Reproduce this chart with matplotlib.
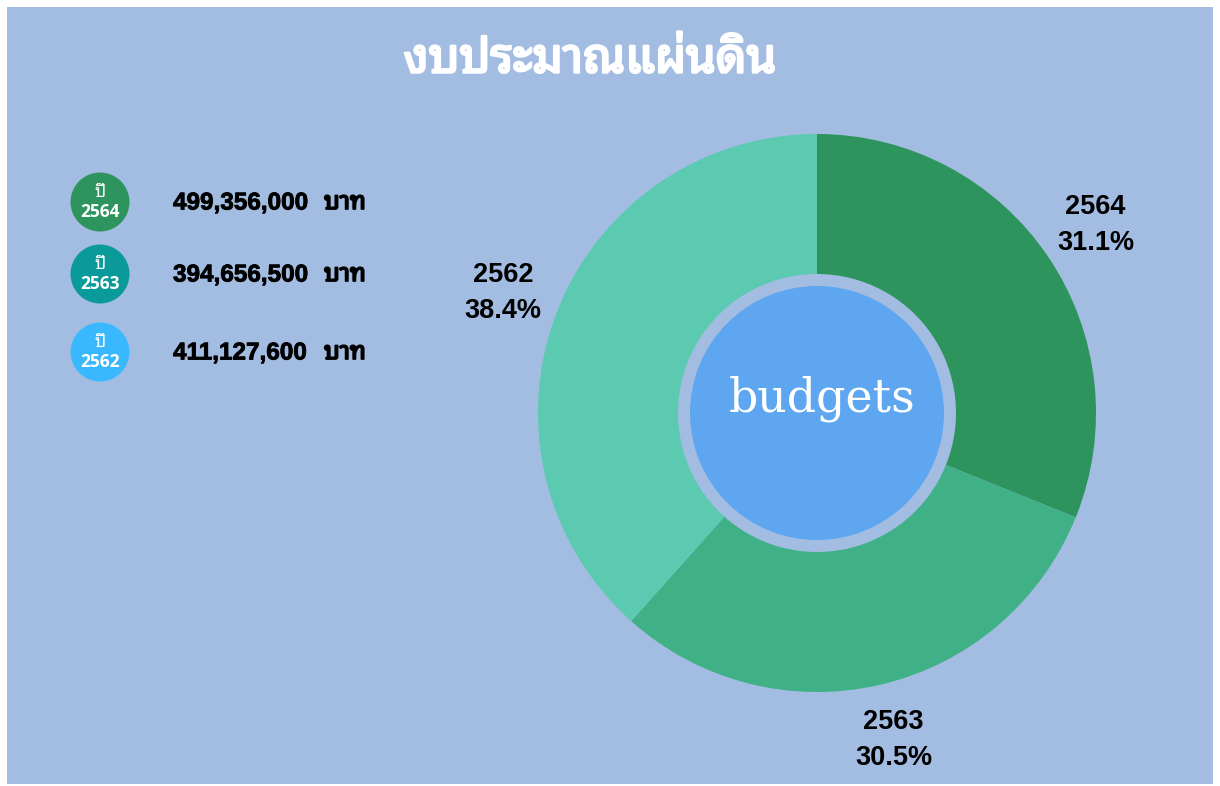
import matplotlib
matplotlib.use("Agg")
import matplotlib.pyplot as plt
from matplotlib import font_manager as fm
from matplotlib.ft2font import FT2Font
from matplotlib.patches import Circle, Rectangle
import matplotlib.patheffects as pe

# ---- data ----
title = "งบประมาณแผ่นดิน"
center_text = "budgets"
years = ["2564", "2563", "2562"]
budgets = ["499,356,000", "394,656,500", "411,127,600"]
unit = "บาท"
year_prefix = "ปี"
pie_percent = [31.1, 30.5, 38.4]

slice_colors = ["#2E945E", "#40B086", "#5CCAB0"]
legend_colors = ["#2E945E", "#0A9A9A", "#3AB8FF"]
BG = "#A3BCE1"
INNER = "#5EA7F0"


def find_thai_family():
    found = []
    for f in fm.fontManager.ttflist:
        try:
            cm = FT2Font(f.fname).get_charmap()
        except Exception:
            continue
        if 0x0E07 in cm and 0x0E1A in cm and 0x0E4C in cm:
            found.append(f.name)
    if not found:
        return "DejaVu Sans"
    for key in ["Noto Sans Thai", "Sarabun", "Kanit", "Prompt", "Noto Sans", "Loma", "Garuda"]:
        for n in found:
            if key.lower() in n.lower():
                return n
    return found[0]


THAI = find_thai_family()

W, H = 1220, 786
fig = plt.figure(figsize=(W / 100, H / 100), dpi=100)
fig.patch.set_facecolor("white")

bg = fig.add_axes([0, 0, 1, 1])
bg.set_xlim(0, W)
bg.set_ylim(H, 0)
bg.axis("off")
bg.add_patch(Rectangle((7, 7), W - 14, H - 9, facecolor=BG, edgecolor="none"))

# title
bg.text(590, 60, title, color="white", fontsize=34.5, fontweight="bold",
        ha="center", va="center", family=[THAI, "DejaVu Sans"],
        path_effects=[pe.withStroke(linewidth=1.8, foreground="white")])

# legend
row_y = [202, 274, 352]
for y, yr, val, col in zip(row_y, years, budgets, legend_colors):
    bg.add_patch(Circle((100, y), 29.5, facecolor=col, edgecolor="none"))
    bg.text(100, y - 10, year_prefix, color="white", fontsize=12.5,
            ha="center", va="center", family=[THAI, "DejaVu Sans"])
    bg.text(100, y + 10, yr, color="white", fontsize=12.5, fontweight="bold",
            ha="center", va="center", family=["Open Sans", "DejaVu Sans"])
    bg.text(173, y + 1, val, color="black", fontsize=17.5,
            fontweight="bold", ha="left", va="center",
            family=["Liberation Sans", "DejaVu Sans"],
            path_effects=[pe.withStroke(linewidth=0.6, foreground="black")])
    bg.text(324, y + 1, unit, color="black", fontsize=17.5,
            fontweight="bold", ha="left", va="center",
            family=[THAI, "DejaVu Sans"],
            path_effects=[pe.withStroke(linewidth=1.3, foreground="black")])

# pie
cx, cy, r = 817, 413, 279
pax = fig.add_axes([(cx - r) / W, (H - cy - r) / H, 2 * r / W, 2 * r / H])
pax.axis("off")
labels = [f"{y}\n{p:.1f}%" for y, p in zip(years, pie_percent)]
hole = 139 / r
wedges, texts = pax.pie(pie_percent, colors=slice_colors, startangle=90,
                        counterclock=False, labels=labels, labeldistance=1.205,
                        wedgeprops=dict(width=1 - hole, linewidth=0),
                        textprops=dict(fontsize=19.5, fontweight="bold",
                                       family=["Liberation Sans", "DejaVu Sans"],
                                       color="black", linespacing=1.5))
for t in texts:
    t.set_ha("center")
    t.set_va("center")
    t.set_clip_on(False)
pax.add_patch(Circle((0, 0), 127 / r, facecolor=INNER, edgecolor="none"))
pax.set_xlim(-1, 1)
pax.set_ylim(-1, 1)

pax.text(822, 411, center_text, color="white", fontsize=33, ha="center",
         va="baseline", family=["DejaVu Serif"], transform=bg.transData,
         zorder=10)

fig.savefig("out.png", dpi=100, facecolor=fig.get_facecolor())
